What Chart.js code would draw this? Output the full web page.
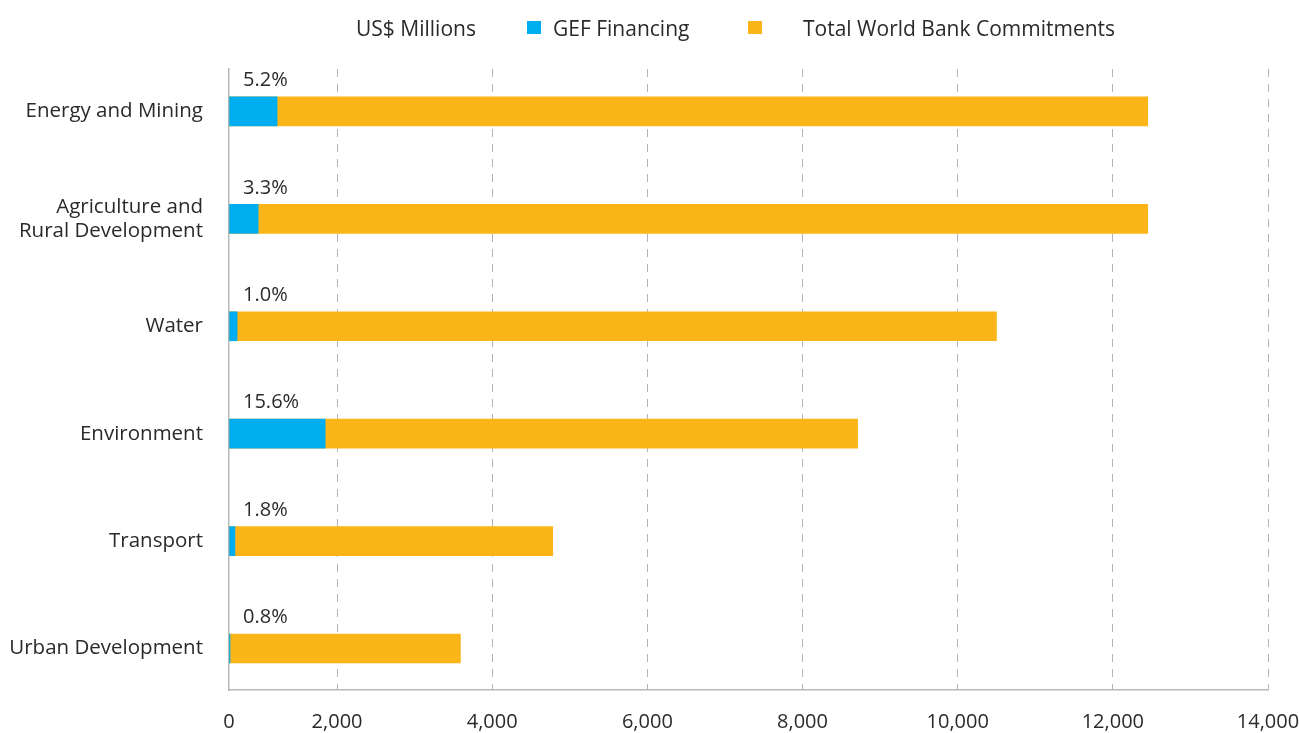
<!DOCTYPE html>
<html>
<head>
<meta charset="utf-8">
<title>GEF Financing and World Bank Commitments by Sector</title>
<script src="https://cdn.jsdelivr.net/npm/chart.js@4.4.0/dist/chart.umd.min.js"></script>
<style>
    html, body { margin: 0; padding: 0; background: #fff; }
    .wrap { position: relative; width: 1299px; height: 733px; font-family: "Open Sans", sans-serif; color: #2a2a2a; }
    .legend { position: absolute; top: 0; left: 0; width: 100%; height: 60px; font-size: 21px; }
    .legend span { position: absolute; top: 15px; line-height: 27px; white-space: nowrap; }
    .legend .swatch { top: 21px; width: 14px; height: 13px; }
    canvas { position: absolute; top: 0; left: 0; }
</style>
</head>
<body>
<div class="wrap">
    <canvas id="sector-chart" width="1299" height="733"></canvas>
    <div class="legend">
        <span style="left:356px">US$ Millions</span>
        <span class="swatch" style="left:527px;background:#00aeef"></span>
        <span style="left:553px">GEF Financing</span>
        <span class="swatch" style="left:748px;background:#fbb518"></span>
        <span style="left:803px">Total World Bank Commitments</span>
    </div>
</div>
<script>
// ===== Sector data (US$ millions) =====
const sectors = [
    'Energy and Mining',
    ['Agriculture and', 'Rural Development'],
    'Water',
    'Environment',
    'Transport',
    'Urban Development'
];
const gefFinancing = [890, 540, 150, 1780, 110, 20];
const wbCommitments = [12450, 12450, 10500, 8710, 4780, 3590];
const gefShare = [5.2, 3.3, 1.0, 15.6, 1.8, 0.8];
const xTicks = [0, 2000, 4000, 6000, 8000, 10000, 12000, 14000];

const BLUE = '#00aeef';
const ORANGE = '#fbb518';
const TEXT = '#2a2a2a';
const FONT = '"Open Sans", sans-serif';

// the first step (0 - 2,000) of the value axis is drawn narrower than the others
const FIRST_STEP = 2000;
const FIRST_STEP_SHARE = 0.104;

const BaseLinear = Chart.LinearScale || Chart.registry.getScale('linear');

class SplitLinearScale extends BaseLinear {
    toDecimal(v) {
        const { min, max } = this;
        if (v <= FIRST_STEP) return (v - min) / (FIRST_STEP - min) * FIRST_STEP_SHARE;
        return FIRST_STEP_SHARE + (v - FIRST_STEP) / (max - FIRST_STEP) * (1 - FIRST_STEP_SHARE);
    }
    getPixelForValue(value) {
        if (value === null || value === undefined || isNaN(value)) return NaN;
        return this.getPixelForDecimal(this.toDecimal(value));
    }
    getValueForPixel(pixel) {
        const d = this.getDecimalForPixel(pixel);
        const { min, max } = this;
        if (d <= FIRST_STEP_SHARE) return min + d / FIRST_STEP_SHARE * (FIRST_STEP - min);
        return FIRST_STEP + (d - FIRST_STEP_SHARE) / (1 - FIRST_STEP_SHARE) * (max - FIRST_STEP);
    }
}
SplitLinearScale.id = 'splitLinear';
SplitLinearScale.defaults = BaseLinear.defaults;
Chart.register(SplitLinearScale);

// share labels sit above the start of each bar
const shareLabels = {
    id: 'shareLabels',
    afterDatasetsDraw(chart) {
        const { ctx, scales: { x, y } } = chart;
        ctx.save();
        ctx.font = `20px ${FONT}`;
        ctx.fillStyle = TEXT;
        ctx.textAlign = 'left';
        ctx.textBaseline = 'middle';
        gefShare.forEach((s, i) => {
            ctx.fillText(`${s.toFixed(1)}%`, x.getPixelForValue(0) + 14, y.getPixelForValue(i) - 31);
        });
        ctx.restore();
    }
};

const toPoints = arr => arr.map((v, i) => ({ x: v, y: i }));

new Chart(document.getElementById('sector-chart'), {
    type: 'bar',
    data: {
        datasets: [
            { label: 'GEF Financing', data: toPoints(gefFinancing), backgroundColor: BLUE, grouped: false, barThickness: 29 },
            { label: 'Total World Bank Commitments', data: toPoints(wbCommitments), backgroundColor: ORANGE, grouped: false, barThickness: 29 }
        ]
    },
    options: {
        indexAxis: 'y',
        responsive: false,
        animation: false,
        layout: { padding: { top: 69, right: 31, bottom: 0, left: 0 } },
        plugins: { legend: { display: false }, tooltip: { enabled: false } },
        scales: {
            x: {
                type: 'splitLinear',
                min: 0,
                max: 14000,
                afterBuildTicks: scale => { scale.ticks = xTicks.map(v => ({ value: v })); },
                afterFit: scale => { scale.height = 43; scale.paddingLeft = 0; scale.paddingRight = 0; },
                grid: {
                    color: ctx => (ctx.tick && ctx.tick.value === 0 ? 'rgba(0,0,0,0)' : '#b4b4b4'),
                    lineWidth: 1,
                    drawTicks: false
                },
                border: { display: true, color: '#b8b8b8', width: 1.5, dash: [8, 7] },
                ticks: {
                    padding: 20,
                    maxRotation: 0,
                    color: TEXT,
                    font: { family: FONT, size: 20 },
                    callback: v => v.toLocaleString('en-US')
                }
            },
            y: {
                type: 'linear',
                reverse: true,
                offset: false,
                min: -0.395,
                max: 5.386,
                afterBuildTicks: scale => { scale.ticks = sectors.map((_, i) => ({ value: i })); },
                afterFit: scale => { scale.width = 229; },
                grid: { display: false, drawTicks: false },
                border: { display: true, color: '#b8b8b8', width: 1.5 },
                ticks: {
                    padding: 26,
                    crossAlign: 'near',
                    color: TEXT,
                    font: { family: FONT, size: 20.5, lineHeight: 1.18 },
                    callback: v => sectors[v]
                }
            }
        }
    },
    plugins: [shareLabels]
});
</script>
</body>
</html>
